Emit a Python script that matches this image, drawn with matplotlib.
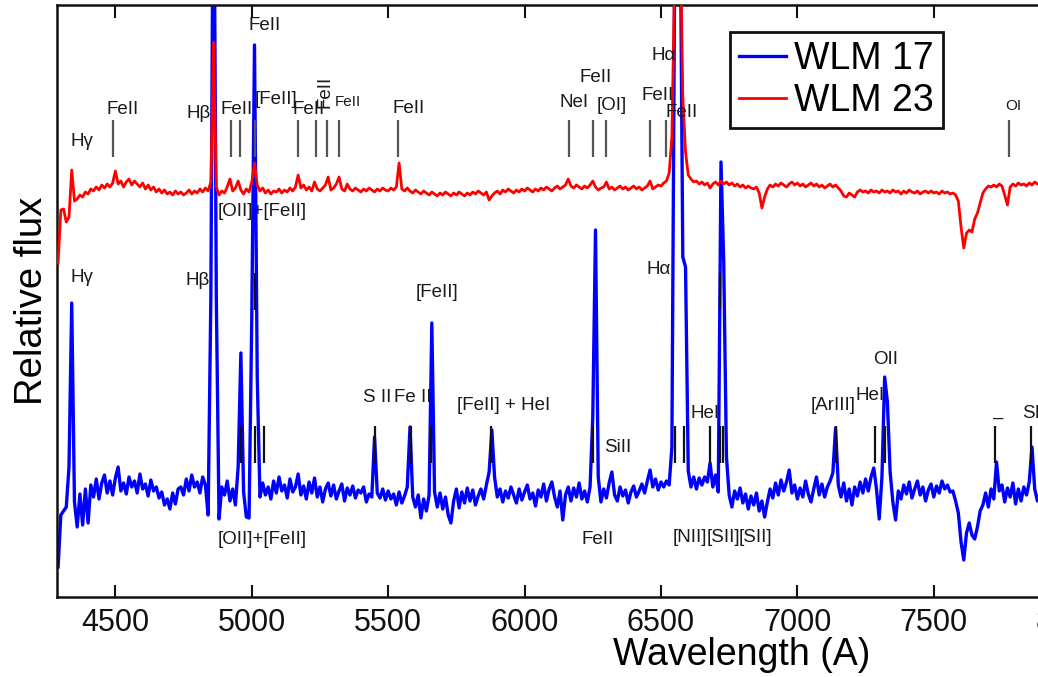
import numpy as np
import matplotlib
matplotlib.use("Agg")
import matplotlib.pyplot as plt

plt.rcParams['font.family'] = ['Liberation Sans', 'DejaVu Sans']

# ---------------- data ----------------
wavelength = np.arange(4290, 7901, 10)  # sampling grid (A)

flux_wlm17 = [
    3.0, 8.2, 8.6, 9.0, 13.0, 29.4, 9.5, 7.0, 10.3, 7.2, 10.8, 7.4, 11.2, 10.0, 11.8, 9.8, 11.4, 12.2, 10.4, 11.6,
    10.2, 11.9, 13.0, 10.6, 11.4, 10.3, 12.0, 11.0, 11.6, 10.4, 12.3, 10.8, 11.3, 10.1, 11.7, 10.6, 11.0, 9.9, 10.5, 9.2,
    9.8, 8.8, 10.4, 9.3, 10.8, 11.0, 10.2, 11.8, 10.6, 12.2, 11.0, 11.5, 10.4, 12.0, 11.2, 8.2, 30.0, 80.0, 30.0, 7.8,
    11.0, 10.2, 11.6, 9.6, 10.8, 9.2, 13.0, 24.4, 10.5, 8.0, 7.9, 28.0, 55.2, 22.0, 10.0, 11.4, 10.2, 11.0, 9.8, 11.6,
    10.4, 12.0, 10.6, 11.2, 9.9, 11.8, 10.5, 11.0, 12.3, 10.2, 11.1, 9.8, 11.5, 10.4, 11.9, 10.0, 11.0, 9.5, 10.8, 11.4,
    10.1, 11.2, 9.8, 10.6, 11.3, 9.6, 10.9, 10.2, 11.1, 9.9, 10.7, 10.4, 11.0, 9.5, 10.3, 10.0, 16.0, 10.4, 9.9, 10.8,
    9.7, 10.6, 9.8, 10.3, 9.2, 10.5, 9.4, 10.1, 11.0, 17.0, 10.0, 9.0, 10.2, 7.9, 9.8, 8.6, 10.2, 27.4, 10.5, 9.0,
    10.4, 8.8, 10.0, 8.2, 7.4, 9.6, 10.8, 8.9, 10.5, 9.4, 10.9, 9.6, 10.7, 9.2, 10.1, 10.8, 9.8, 11.2, 12.5, 16.7,
    12.0, 10.0, 10.8, 9.5, 10.6, 9.9, 11.0, 10.2, 9.4, 10.8, 9.7, 10.5, 11.2, 9.8, 10.4, 9.1, 10.7, 10.0, 11.3, 9.6,
    10.8, 11.5, 10.0, 9.0, 10.6, 7.7, 10.2, 11.0, 9.6, 10.9, 10.0, 11.4, 9.8, 10.6, 9.5, 11.0, 18.0, 36.7, 12.0, 9.5,
    10.8, 9.9, 11.4, 12.5, 10.2, 9.6, 11.0, 10.1, 10.7, 9.4, 10.5, 11.1, 10.0, 10.6, 11.3, 10.4, 11.6, 12.7, 11.0, 11.8,
    10.7, 11.5, 11.0, 11.6, 11.2, 15.0, 62.0, 80.0, 70.0, 34.0, 33.0, 12.6, 11.0, 12.0, 10.8, 11.9, 11.2, 12.0, 11.5, 13.4,
    11.0, 12.2, 10.5, 43.5, 33.5, 14.0, 10.2, 9.0, 10.6, 9.8, 10.9, 9.4, 10.3, 8.8, 10.1, 9.2, 10.4, 8.6, 9.6, 8.0,
    9.5, 10.8, 9.9, 11.4, 10.2, 11.7, 10.6, 11.5, 12.7, 10.4, 11.2, 9.8, 10.9, 10.0, 11.6, 10.3, 9.5, 10.8, 12.0, 10.2,
    11.3, 10.0, 11.0, 11.6, 12.4, 16.9, 11.2, 10.0, 11.4, 9.6, 10.8, 9.2, 11.0, 10.1, 11.5, 10.4, 11.8, 10.6, 12.0, 12.9,
    10.8, 7.8, 12.0, 22.0, 19.5, 12.5, 9.5, 7.7, 10.6, 9.8, 11.2, 10.3, 11.5, 9.9, 10.8, 11.6, 10.2, 11.0, 9.6, 10.7,
    11.3, 10.0, 11.1, 10.4, 11.6, 10.8, 11.2, 10.5, 10.6, 9.6, 8.4, 5.5, 3.7, 6.4, 7.4, 6.2, 5.8, 7.0, 8.6, 9.2,
    10.4, 9.0, 10.8, 9.8, 13.5, 10.6, 11.2, 9.5, 10.9, 10.0, 11.4, 9.3, 10.8, 9.6, 11.0, 10.2, 11.5, 15.0, 10.8, 9.6,
    10.4, 9.8,
]

flux_wlm23 = [
    33.4, 38.7, 38.8, 37.5, 38.0, 42.7, 39.6, 39.8, 40.2, 40.0, 40.5, 40.3, 40.8, 40.6, 41.0, 40.7, 41.2, 40.9, 41.3, 41.0,
    41.4, 42.6, 41.3, 41.6, 41.0, 41.5, 41.8, 41.2, 41.6, 41.3, 41.0, 41.4, 40.8, 41.2, 40.7, 41.0, 40.5, 40.8, 40.4, 40.7,
    40.3, 40.5, 40.2, 40.6, 40.3, 40.5, 40.2, 40.4, 40.7, 40.3, 40.6, 40.4, 40.8, 40.5, 40.9, 40.6, 41.5, 55.5, 41.0, 40.2,
    40.6, 40.4, 41.0, 41.8, 40.6, 40.9, 41.6, 40.7, 40.3, 40.8, 40.5, 41.5, 43.4, 41.2, 40.6, 40.9, 40.4, 40.7, 40.3, 40.6,
    40.5, 40.8, 40.4, 40.7, 40.5, 40.9, 40.6, 41.0, 42.2, 40.9, 41.2, 40.7, 41.0, 40.6, 41.5, 40.8, 40.6, 40.9, 41.2, 42.0,
    40.7, 40.9, 41.3, 42.0, 40.8, 40.6, 41.3, 40.8, 40.6, 40.9, 40.7, 40.5, 40.8, 40.6, 40.9, 40.7, 40.5, 40.8, 40.6, 40.9,
    40.7, 40.6, 40.9, 40.7, 41.0, 43.4, 40.8, 40.6, 40.9, 40.6, 40.4, 40.7, 40.5, 40.3, 40.6, 40.4, 40.2, 40.5, 40.3, 40.1,
    40.4, 40.2, 40.5, 40.3, 40.1, 40.4, 40.2, 40.5, 40.3, 40.1, 40.4, 40.2, 40.5, 40.3, 40.6, 40.4, 40.2, 40.5, 39.7, 40.1,
    40.4, 40.6, 40.3, 40.7, 40.5, 40.8, 40.6, 40.4, 40.7, 40.5, 40.8, 40.6, 40.9, 40.7, 40.5, 40.8, 40.6, 40.9, 40.7, 41.0,
    40.8, 40.6, 40.9, 41.1, 40.8, 41.0, 41.2, 41.8, 41.1, 40.9, 41.2, 41.0, 40.8, 41.1, 40.9, 41.2, 41.6, 41.0, 40.7, 40.9,
    41.0, 41.5, 40.8, 41.0, 40.7, 40.9, 41.1, 40.8, 41.0, 40.7, 40.9, 41.1, 40.8, 41.0, 40.7, 40.9, 41.1, 41.6, 40.8, 41.0,
    41.2, 41.1, 41.4, 41.6, 42.4, 46.0, 62.0, 75.0, 68.0, 50.0, 44.5, 42.2, 41.8, 41.5, 41.6, 41.3, 41.5, 41.2, 41.4, 40.9,
    41.3, 41.5, 41.2, 41.6, 41.3, 41.5, 41.2, 41.4, 41.1, 41.3, 41.0, 41.2, 40.9, 41.1, 40.9, 40.8, 41.0, 40.4, 38.9, 40.0,
    40.8, 41.2, 41.0, 41.3, 41.1, 41.4, 41.2, 41.0, 41.3, 41.5, 41.2, 41.4, 41.1, 41.3, 41.0, 41.2, 41.4, 41.1, 41.3, 41.0,
    41.2, 40.9, 41.1, 41.3, 41.0, 41.2, 40.9, 40.6, 40.1, 40.0, 40.4, 40.2, 40.0, 40.5, 40.7, 40.5, 40.6, 40.4, 40.7, 40.5,
    40.6, 40.4, 40.7, 40.5, 40.6, 40.4, 40.7, 40.5, 40.6, 40.3, 40.6, 40.4, 40.7, 40.5, 40.4, 40.6, 40.3, 40.5, 40.6, 40.4,
    40.6, 40.4, 40.5, 40.3, 40.6, 40.4, 40.5, 40.3, 40.4, 40.2, 39.6, 37.0, 34.9, 36.4, 36.7, 36.5, 37.8, 38.4, 39.4, 40.4,
    40.8, 41.1, 41.0, 41.2, 41.0, 41.3, 41.1, 40.2, 39.2, 41.0, 41.3, 41.1, 41.4, 41.2, 41.3, 41.1, 41.4, 41.2, 41.5, 41.3,
    41.4, 41.2,
]

# line identification marks (A)
marks_wlm23 = [4493, 4925, 4955, 5013, 5171, 5237, 5277, 5318, 5537, 6164, 6252, 6300, 6458, 6520, 7774]
marks_wlm17 = [4962, 5010, 5046, 5453, 5585, 5658, 5878, 6249, 6553, 6586, 6681, 6718, 6729,
               7140, 7286, 7323, 7726, 7858]
marks_wlm17_upper = [5010, 6718]

series_names = ["WLM 17", "WLM 23"]
xtick_values = [4500, 5000, 5500, 6000, 6500, 7000, 7500, 8000]

# label annotations: (text, wavelength, level, fontsize, rotation, ha)
labels_wlm23 = [
    ("Hγ", 4379, 45.5, 13.5, 0, "center"),
    ("FeII", 4526, 48.7, 13.5, 0, "center"),
    ("Hβ", 4804, 48.4, 13.5, 0, "center"),
    ("FeII", 4944, 48.7, 13.5, 0, "center"),
    ("[FeII]", 5090, 49.7, 13.5, 0, "center"),
    ("FeII", 5208, 48.7, 13.5, 0, "center"),
    ("FeII", 5268, 50.5, 13.5, 90, "center"),
    ("FeII", 5354, 49.5, 11, 0, "center"),
    ("FeII", 5574, 48.9, 13.5, 0, "center"),
    ("NeI", 6183, 49.5, 13.5, 0, "center"),
    ("FeII", 6260, 52.0, 13.5, 0, "center"),
    ("[OI]", 6318, 49.2, 13.5, 0, "center"),
    ("FeII", 6487, 50.1, 13.5, 0, "center"),
    ("Hα", 6509, 54.2, 13.5, 0, "center"),
    ("FeII", 6575, 48.5, 13.5, 0, "center"),
    ("FeII", 5046, 57.2, 13.5, 0, "center"),
    ("OI", 7792, 49.1, 11, 0, "center"),
    ("[OII]+[FeII]", 5039, 38.6, 13.5, 0, "center"),
]
labels_wlm17 = [
    ("Hγ", 4379, 32.0, 13.5, 0, "center"),
    ("Hβ", 4801, 31.7, 13.5, 0, "center"),
    ("[FeII]", 5680, 30.5, 13.5, 0, "center"),
    ("S II", 5460, 20.0, 13.5, 0, "center"),
    ("Fe II", 5589, 20.0, 13.5, 0, "center"),
    ("[FeII] + HeI", 5922, 19.2, 13.5, 0, "center"),
    ("SiII", 6340, 14.9, 13.5, 0, "center"),
    ("Hα", 6491, 32.8, 13.5, 0, "center"),
    ("HeI", 6663, 18.4, 13.5, 0, "center"),
    ("[ArIII]", 7132, 19.2, 13.5, 0, "center"),
    ("HeI", 7268, 20.1, 13.5, 0, "center"),
    ("OII", 7323, 23.8, 13.5, 0, "center"),
    ("–", 7737, 17.9, 13.5, 0, "center"),
    ("SIII", 7825, 18.3, 13.5, 0, "left"),
    ("[OII]+[FeII]", 5039, 5.7, 13.5, 0, "center"),
    ("FeII", 6267, 5.8, 13.5, 0, "center"),
    ("[NII]", 6605, 5.9, 13.5, 0, "center"),
    ("[SII]", 6728, 5.9, 13.5, 0, "center"),
    ("[SII]", 6845, 5.9, 13.5, 0, "center"),
]

# ---------------- figure ----------------
W, H = 1038, 677
fig = plt.figure(figsize=(W / 100, H / 100), dpi=100)
x0, x1 = 4286, 8100
ax_w_px = (x1 - x0) / 500 * 136.4
ax = fig.add_axes([57 / W, 80 / H, ax_w_px / W, 592 / H])
ax.set_xlim(x0, x1)
ax.set_ylim(0, 59.2)

l17, = ax.plot(wavelength, flux_wlm17, color="#0000ff", lw=2.4, zorder=2, label=series_names[0])
l23, = ax.plot(wavelength, flux_wlm23, color="#ff0000", lw=2.0, zorder=3, label=series_names[1])

ax.vlines(marks_wlm23, 44.0, 47.7, color="#555555", lw=1.6, zorder=4)
ax.vlines(marks_wlm17, 13.4, 17.1, color="#111111", lw=1.6, zorder=4)
ax.vlines(marks_wlm17_upper, 28.7, 32.4, color="#111111", lw=1.6, zorder=4)

for txt, xw, yl, fs, rot, ha in labels_wlm23 + labels_wlm17:
    ax.text(xw, yl, txt, fontsize=fs, rotation=rot, ha=ha, va="center",
            color="#1a1a1a", zorder=5)

ax.set_xticks(xtick_values)
ax.set_xticklabels([str(v) for v in xtick_values])
ax.tick_params(axis="x", direction="in", length=9, width=1.5, top=True,
               labelsize=22, pad=8, colors="#111111")
ax.tick_params(axis="y", left=False, labelleft=False)
for s in ax.spines.values():
    s.set_linewidth(1.8)
    s.set_color("#111111")

ax.set_xlabel("Wavelength (A)", fontsize=27)
ax.xaxis.set_label_coords(0.658, -0.067)
ax.set_ylabel("Relative flux", fontsize=27.5)
ax.yaxis.set_label_coords(-0.007, 0.5)

leg = ax.legend(handles=[l17, l23], loc="upper left",
                bbox_to_anchor=((730 - 57) / ax_w_px, (597 - 32) / 592),
                fontsize=27, frameon=True, fancybox=False, framealpha=1,
                edgecolor="#111111", borderpad=0.25, labelspacing=0.15,
                handlelength=1.25, handletextpad=0.2, borderaxespad=0)
leg.get_frame().set_linewidth(2.0)
leg.set_zorder(6)

fig.savefig("out.png", dpi=100)
